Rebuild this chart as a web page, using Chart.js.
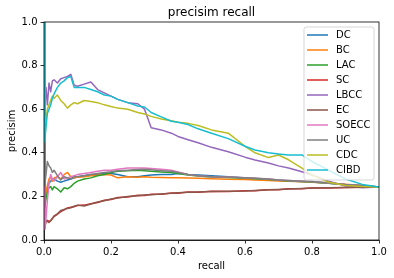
<!DOCTYPE html>
<html><head><meta charset="utf-8">
<script src="https://cdn.jsdelivr.net/npm/chart.js@4"></script>
<style>html,body{margin:0;padding:0;background:#fff}</style>
</head><body>
<canvas id="c" width="394" height="278" style="display:block;width:394px;height:278px"></canvas>
<script>
const recall = [0, 0.002, 0.006, 0.01, 0.015, 0.02, 0.025, 0.03, 0.04, 0.05, 0.06, 0.07, 0.08, 0.09, 0.1, 0.12, 0.14, 0.16, 0.18, 0.2, 0.22, 0.25, 0.28, 0.3, 0.32, 0.35, 0.38, 0.4, 0.43, 0.46, 0.5, 0.55, 0.6, 0.63, 0.67, 0.7, 0.73, 0.77, 0.8, 0.85, 0.9, 0.95, 1.0];
const DC = [1, 0.18, 0.21, 0.24, 0.26, 0.27, 0.275, 0.28, 0.27, 0.265, 0.27, 0.275, 0.28, 0.285, 0.29, 0.295, 0.30, 0.30, 0.305, 0.305, 0.30, 0.29, 0.29, 0.295, 0.298, 0.30, 0.30, 0.305, 0.30, 0.298, 0.295, 0.29, 0.284, 0.282, 0.278, 0.274, 0.271, 0.268, 0.266, 0.26, 0.254, 0.249, 0.243];
const BC = [1, 0.15, 0.21, 0.25, 0.28, 0.29, 0.27, 0.285, 0.29, 0.28, 0.30, 0.31, 0.29, 0.285, 0.288, 0.29, 0.295, 0.298, 0.30, 0.298, 0.285, 0.29, 0.288, 0.29, 0.288, 0.287, 0.285, 0.285, 0.284, 0.283, 0.281, 0.279, 0.277, 0.275, 0.273, 0.271, 0.269, 0.267, 0.265, 0.261, 0.256, 0.25, 0.243];
const LAC = [1, 0.15, 0.19, 0.22, 0.24, 0.245, 0.23, 0.245, 0.235, 0.22, 0.24, 0.235, 0.245, 0.26, 0.27, 0.28, 0.285, 0.295, 0.30, 0.31, 0.315, 0.318, 0.32, 0.318, 0.315, 0.312, 0.31, 0.305, 0.298, 0.293, 0.289, 0.287, 0.283, 0.281, 0.278, 0.274, 0.271, 0.268, 0.266, 0.26, 0.254, 0.249, 0.243];
const SC = [1, 0.06, 0.085, 0.09, 0.085, 0.088, 0.098, 0.11, 0.118, 0.13, 0.138, 0.147, 0.15, 0.153, 0.158, 0.16, 0.166, 0.172, 0.182, 0.186, 0.195, 0.197, 0.205, 0.204, 0.21, 0.21, 0.216, 0.215, 0.22, 0.219, 0.224, 0.223, 0.226, 0.226, 0.231, 0.231, 0.235, 0.235, 0.238, 0.239, 0.241, 0.242, 0.243];
const LBCC = [1, 0.60, 0.70, 0.62, 0.72, 0.68, 0.73, 0.735, 0.72, 0.74, 0.745, 0.75, 0.76, 0.71, 0.705, 0.715, 0.725, 0.69, 0.675, 0.66, 0.645, 0.63, 0.625, 0.60, 0.515, 0.505, 0.49, 0.475, 0.46, 0.446, 0.425, 0.405, 0.38, 0.367, 0.353, 0.34, 0.33, 0.313, 0.298, 0.27, 0.248, 0.24, 0.243];
const EC = [1, 0.05, 0.09, 0.085, 0.08, 0.09, 0.10, 0.107, 0.12, 0.135, 0.14, 0.145, 0.148, 0.155, 0.16, 0.156, 0.165, 0.174, 0.18, 0.188, 0.193, 0.199, 0.203, 0.206, 0.208, 0.211, 0.214, 0.217, 0.219, 0.22, 0.222, 0.224, 0.225, 0.227, 0.23, 0.232, 0.234, 0.236, 0.238, 0.24, 0.241, 0.242, 0.243];
const SOECC = [1, 0.05, 0.10, 0.18, 0.26, 0.30, 0.28, 0.27, 0.29, 0.31, 0.28, 0.285, 0.29, 0.295, 0.30, 0.305, 0.31, 0.315, 0.32, 0.32, 0.325, 0.33, 0.33, 0.33, 0.328, 0.325, 0.32, 0.312, 0.30, 0.295, 0.29, 0.289, 0.285, 0.283, 0.28, 0.275, 0.273, 0.27, 0.268, 0.262, 0.255, 0.25, 0.243];
const UC = [1, 0.25, 0.30, 0.36, 0.34, 0.33, 0.31, 0.32, 0.295, 0.275, 0.29, 0.285, 0.28, 0.29, 0.29, 0.295, 0.30, 0.305, 0.31, 0.313, 0.318, 0.32, 0.323, 0.324, 0.322, 0.318, 0.315, 0.31, 0.30, 0.295, 0.29, 0.289, 0.285, 0.283, 0.28, 0.275, 0.273, 0.27, 0.268, 0.262, 0.255, 0.25, 0.243];
const CDC = [1, 0.45, 0.55, 0.60, 0.62, 0.64, 0.66, 0.65, 0.665, 0.64, 0.625, 0.605, 0.62, 0.63, 0.625, 0.64, 0.635, 0.63, 0.62, 0.612, 0.605, 0.60, 0.585, 0.578, 0.567, 0.555, 0.547, 0.54, 0.535, 0.525, 0.505, 0.49, 0.43, 0.40, 0.378, 0.39, 0.368, 0.33, 0.298, 0.265, 0.25, 0.245, 0.243];
const CIBD = [1, 0.45, 0.52, 0.58, 0.60, 0.62, 0.65, 0.67, 0.70, 0.72, 0.73, 0.745, 0.75, 0.70, 0.70, 0.70, 0.69, 0.68, 0.665, 0.66, 0.645, 0.63, 0.615, 0.61, 0.585, 0.565, 0.545, 0.54, 0.53, 0.51, 0.49, 0.465, 0.43, 0.413, 0.40, 0.395, 0.39, 0.39, 0.36, 0.32, 0.28, 0.255, 0.243];

const seriesNames = ['DC', 'BC', 'LAC', 'SC', 'LBCC', 'EC', 'SOECC', 'UC', 'CDC', 'CIBD'];
const seriesValues = [DC, BC, LAC, SC, LBCC, EC, SOECC, UC, CDC, CIBD];
const seriesColors = ['#1f77b4', '#ff7f0e', '#2ca02c', '#d62728', '#9467bd', '#8c564b', '#e377c2', '#7f7f7f', '#bcbd22', '#17becf'];
const axisTicks = [0, 0.2, 0.4, 0.6, 0.8, 1.0];

const FONT = "'DejaVu Sans', sans-serif";

const datasets = seriesNames.map((name, i) => ({
  label: name,
  data: recall.map((r, j) => ({x: r, y: seriesValues[i][j]})),
  borderColor: seriesColors[i],
  backgroundColor: seriesColors[i],
  borderWidth: 1.5,
  pointRadius: 0,
  tension: 0,
  fill: false,
  borderJoinStyle: 'round',
  order: seriesNames.length - i
}));

const framePlugin = {
  id: 'frameAndLegend',
  afterDatasetsDraw(chart) {
    const ctx = chart.ctx, a = chart.chartArea;
    ctx.save();
    ctx.strokeStyle = '#000';
    ctx.lineWidth = 0.8;
    ctx.strokeRect(a.left, a.top, a.right - a.left, a.bottom - a.top);
    // legend (upper right, inside axes)
    const w = 70, h = 153;
    const x0 = a.right - 5 - w, y0 = a.top + 5;
    const rr = 2.5;
    ctx.beginPath();
    ctx.moveTo(x0 + rr, y0);
    ctx.lineTo(x0 + w - rr, y0);
    ctx.quadraticCurveTo(x0 + w, y0, x0 + w, y0 + rr);
    ctx.lineTo(x0 + w, y0 + h - rr);
    ctx.quadraticCurveTo(x0 + w, y0 + h, x0 + w - rr, y0 + h);
    ctx.lineTo(x0 + rr, y0 + h);
    ctx.quadraticCurveTo(x0, y0 + h, x0, y0 + h - rr);
    ctx.lineTo(x0, y0 + rr);
    ctx.quadraticCurveTo(x0, y0, x0 + rr, y0);
    ctx.closePath();
    ctx.fillStyle = 'rgba(255,255,255,0.8)';
    ctx.fill();
    ctx.strokeStyle = 'rgba(204,204,204,0.8)';
    ctx.lineWidth = 1;
    ctx.stroke();
    ctx.font = '10px ' + FONT;
    ctx.textBaseline = 'middle';
    ctx.textAlign = 'left';
    chart.data.datasets.forEach((ds, i) => {
      const y = y0 + 8 + i * 15;
      ctx.beginPath();
      ctx.strokeStyle = ds.borderColor;
      ctx.lineWidth = 1.5;
      ctx.moveTo(x0 + 3, y);
      ctx.lineTo(x0 + 24, y);
      ctx.stroke();
      ctx.fillStyle = '#000';
      ctx.fillText(ds.label, x0 + 32, y + 0.5);
    });
    ctx.restore();
  }
};

const tickCfg = {
  min: 0, max: 1,
  afterBuildTicks: s => { s.ticks = axisTicks.map(v => ({value: v})); },
};

new Chart(document.getElementById('c'), {
  type: 'line',
  data: {datasets},
  plugins: [framePlugin],
  options: {
    responsive: false,
    animation: false,
    devicePixelRatio: 1,
    layout: {padding: {left: 0, right: 15, top: 0, bottom: 0}},
    plugins: {
      legend: {display: false},
      tooltip: {enabled: false},
      title: {
        display: true, text: 'precisim recall', fullSize: false,
        color: '#000', font: {family: FONT, size: 12, weight: 'normal'},
        padding: {top: 6, bottom: 1.6}
      }
    },
    scales: {
      x: {
        type: 'linear', min: 0, max: 1,
        afterBuildTicks: tickCfg.afterBuildTicks,
        afterFit: s => { s.height = 38; },
        ticks: {callback: v => Number(v).toFixed(1), color: '#000', font: {family: FONT, size: 10}, maxRotation: 0, padding: 3},
        grid: {drawOnChartArea: false, drawTicks: true, tickLength: 3.5, tickColor: '#000', tickWidth: 0.8, color: '#000', lineWidth: 0.8},
        border: {display: true, color: '#000', width: 0.8},
        title: {display: true, text: 'recall', color: '#000', font: {family: FONT, size: 10}, padding: {top: 0, bottom: 5.5}}
      },
      y: {
        type: 'linear', min: 0, max: 1,
        afterBuildTicks: tickCfg.afterBuildTicks,
        afterFit: s => { s.width = 44; },
        ticks: {callback: v => Number(v).toFixed(1), color: '#000', font: {family: FONT, size: 10}, padding: 3},
        grid: {drawOnChartArea: false, drawTicks: true, tickLength: 3.5, tickColor: '#000', tickWidth: 0.8, color: '#000', lineWidth: 0.8},
        border: {display: true, color: '#000', width: 0.8},
        title: {display: true, text: 'precisim', color: '#000', font: {family: FONT, size: 10}, padding: {top: 6, bottom: 0}}
      }
    }
  }
});
</script>
</body></html>
